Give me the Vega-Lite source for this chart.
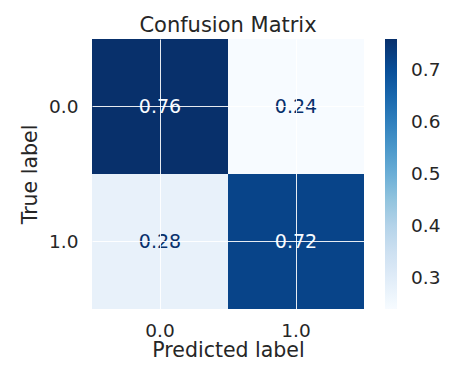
{
  "$schema": "https://vega.github.io/schema/vega-lite/v6.json",
  "width": 272,
  "height": 270,
  "autosize": {"type": "none"},
  "padding": {"left": 92, "top": 39, "right": 101, "bottom": 68},
  "background": "white",
  "title": {"text": "Confusion Matrix", "fontSize": 21, "font": "DejaVu Sans", "fontWeight": "normal", "color": "#262626", "offset": 3, "anchor": "middle"},
  "data": {"values": [
    {"true_label": "0.0", "predicted_label": "0.0", "value": 0.76},
    {"true_label": "0.0", "predicted_label": "1.0", "value": 0.24},
    {"true_label": "1.0", "predicted_label": "0.0", "value": 0.28},
    {"true_label": "1.0", "predicted_label": "1.0", "value": 0.72}
  ]},
  "config": {
    "view": {"stroke": null},
    "font": "DejaVu Sans",
    "axis": {
      "domain": false, "ticks": false, "tickSize": 0,
      "labelFontSize": 18.5, "labelColor": "#262626", "labelFont": "DejaVu Sans",
      "titleFontSize": 20.5, "titleFontWeight": "normal", "titleColor": "#262626", "titleFont": "DejaVu Sans",
      "gridColor": "white", "gridWidth": 1, "gridOpacity": 0.9
    }
  },
  "encoding": {
    "x": {"field": "predicted_label", "type": "nominal", "sort": ["0.0", "1.0"],
      "scale": {"paddingInner": 0, "paddingOuter": 0},
      "axis": {"title": "Predicted label", "labelAngle": 0, "labelPadding": 12, "titlePadding": 1, "grid": true, "bandPosition": 0.5, "zindex": 1}},
    "y": {"field": "true_label", "type": "nominal", "sort": ["0.0", "1.0"],
      "scale": {"paddingInner": 0, "paddingOuter": 0},
      "axis": {"title": "True label", "labelPadding": 14, "titlePadding": 8, "grid": true, "bandPosition": 0.5, "zindex": 1}}
  },
  "layer": [
    {
      "mark": {"type": "rect", "strokeWidth": 0},
      "encoding": {
        "color": {
          "field": "value", "type": "quantitative",
          "scale": {"type": "linear", "interpolate": "rgb",
            "domain": [0.24, 0.305, 0.37, 0.435, 0.5, 0.565, 0.63, 0.695, 0.76],
            "range": ["#f7fbff", "#deebf7", "#c6dbef", "#9ecae1", "#6baed6", "#4292c6", "#2171b5", "#08519c", "#08306b"]},
          "legend": {
            "orient": "none", "legendX": 293, "legendY": 0, "direction": "vertical",
            "gradientLength": 270, "gradientThickness": 12, "gradientStrokeWidth": 0,
            "title": null, "values": [0.3, 0.4, 0.5, 0.6, 0.7], "format": ".1f",
            "labelFontSize": 18.5, "labelColor": "#262626", "labelFont": "DejaVu Sans", "labelOffset": 6, "padding": 0,
            "encode": {"labels": {"update": {"dx": {"value": 8}}}}
          }
        }
      }
    },
    {
      "mark": {"type": "text", "fontSize": 19, "font": "DejaVu Sans"},
      "encoding": {
        "text": {"field": "value", "type": "quantitative", "format": ".2f"},
        "color": {"condition": {"test": "datum.value > 0.5", "value": "#f7fbff"}, "value": "#08306b"}
      }
    }
  ]
}
